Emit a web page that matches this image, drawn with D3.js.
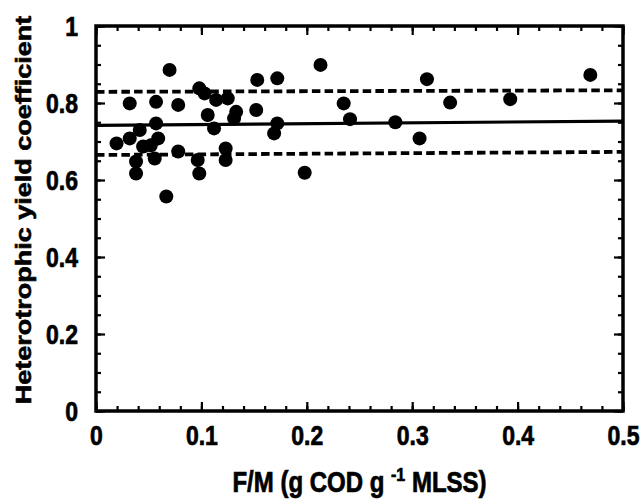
<!DOCTYPE html>
<html><head><meta charset="utf-8">
<script src="https://cdn.jsdelivr.net/npm/d3@7"></script>
<style>
html,body{margin:0;padding:0;background:#fff;}
svg text{font-family:"Liberation Sans",Arial,sans-serif;font-weight:bold;fill:#000;stroke:#000;stroke-width:0.6px;}
</style></head>
<body><svg id="chart" width="644" height="499"></svg>
<script>
// Data
const fmValues    = [0.0698,0.032,0.057,0.078,0.098,0.103,0.114,0.125,0.133,0.131,0.153,0.172,0.152,0.106,0.112,0.172,0.169,0.057,0.0195,0.032,0.0415,0.059,0.0447,0.0557,0.038,0.038,0.078,0.0965,0.098,0.123,0.123,0.0667,0.052,0.213,0.235,0.241,0.198,0.284,0.307,0.314,0.336,0.393,0.469];
const yieldValues = [0.886,0.799,0.803,0.795,0.838,0.825,0.808,0.812,0.777,0.760,0.860,0.864,0.782,0.769,0.734,0.747,0.721,0.747,0.695,0.708,0.730,0.708,0.687,0.656,0.648,0.617,0.674,0.652,0.617,0.682,0.652,0.557,0.690,0.899,0.799,0.758,0.619,0.750,0.708,0.862,0.801,0.810,0.873];
const lineX     = [0, 0.5];
const meanLine  = [0.742, 0.753];
const upperLine = [0.829, 0.833];
const lowerLine = [0.665, 0.673];
const xTicks = [0, 0.1, 0.2, 0.3, 0.4, 0.5];
const yTicks = [0, 0.2, 0.4, 0.6, 0.8, 1];
const xLabel = "F/M (g COD g";
const xLabelSup = "-1";
const xLabelEnd = " MLSS)";
const yLabel = "Heterotrophic yield coefficient";

(function(){
const svg = d3.select("#chart");
const m = {left:96, right:21, top:26, bottom:88};
const W = 644, H = 499;
const stretch = 1.2; // the scanned figure is stretched vertically
const x = d3.scaleLinear().domain([0,0.5]).range([m.left, W-m.right]);
const y = d3.scaleLinear().domain([0,1]).range([H-m.bottom, m.top]);

const minorX = d3.range(0, 0.5001, 0.02);
const minorY = d3.range(0, 1.0001, 0.05);

function styleAxis(g){
  g.select(".domain").remove();
  g.selectAll(".tick line").attr("stroke","#000").attr("stroke-width",2.2);
}
function addAxis(axisFn, scale, ticks, size, tx, ty, fmt){
  const g = svg.append("g").attr("transform",`translate(${tx},${ty})`)
    .call(axisFn(scale).tickValues(ticks).tickSizeInner(-size).tickSizeOuter(0).tickFormat(fmt || ""));
  styleAxis(g);
  return g;
}
const fmt = d=>d3.format("")(d);
addAxis(d3.axisBottom, x, minorX, 5, 0, y(0));
const bMaj = addAxis(d3.axisBottom, x, xTicks, 9, 0, y(0), fmt);
bMaj.selectAll("text").attr("font-size",23).attr("y",0).attr("dy",0)
  .attr("transform",`translate(0,${445 - y(0)}) scale(1,${stretch})`);
addAxis(d3.axisTop, x, minorX, 5, 0, y(1));
addAxis(d3.axisTop, x, xTicks, 9, 0, y(1));
addAxis(d3.axisLeft, y, minorY, 5, x(0), 0);
const lMaj = addAxis(d3.axisLeft, y, yTicks, 9, x(0), 0, fmt);
lMaj.selectAll("text").attr("font-size",23).attr("x",0).attr("dy","0.36em")
  .attr("transform",`translate(-18,0) scale(1,${stretch})`);
addAxis(d3.axisRight, y, minorY, 5, x(0.5), 0);
addAxis(d3.axisRight, y, yTicks, 9, x(0.5), 0);

svg.append("rect").attr("x",x(0)).attr("y",y(1)).attr("width",x(0.5)-x(0)).attr("height",y(0)-y(1))
  .attr("fill","none").attr("stroke","#000").attr("stroke-width",3.5);

const line = d3.line().x(d=>x(d[0])).y(d=>y(d[1]));
svg.append("path").datum(lineX.map((v,i)=>[v,meanLine[i]])).attr("d",line)
  .attr("fill","none").attr("stroke","#000").attr("stroke-width",3.2);
[upperLine, lowerLine].forEach(arr=>{
  svg.append("path").datum(lineX.map((v,i)=>[v,arr[i]])).attr("d",line)
    .attr("fill","none").attr("stroke","#000").attr("stroke-width",3.8).attr("stroke-dasharray","8.5,4.2");
});

svg.append("g").selectAll("circle").data(fmValues.map((v,i)=>[v,yieldValues[i]])).join("circle")
  .attr("cx",d=>x(d[0])).attr("cy",d=>y(d[1])).attr("r",7).attr("fill","#000");

const xt = svg.append("text").attr("text-anchor","middle").attr("font-size",24)
  .attr("transform",`translate(${(x(0)+x(0.5))/2},492) scale(1,${stretch})`);
xt.append("tspan").text(xLabel + " ");
xt.append("tspan").attr("dy",-9).attr("font-size",16).text(xLabelSup);
xt.append("tspan").attr("dy",9).text(xLabelEnd);

svg.append("text").attr("transform",`translate(31,210) scale(1,${stretch}) rotate(-90)`)
  .attr("text-anchor","middle").attr("font-size",22.5).text(yLabel);
})();
</script></body></html>
